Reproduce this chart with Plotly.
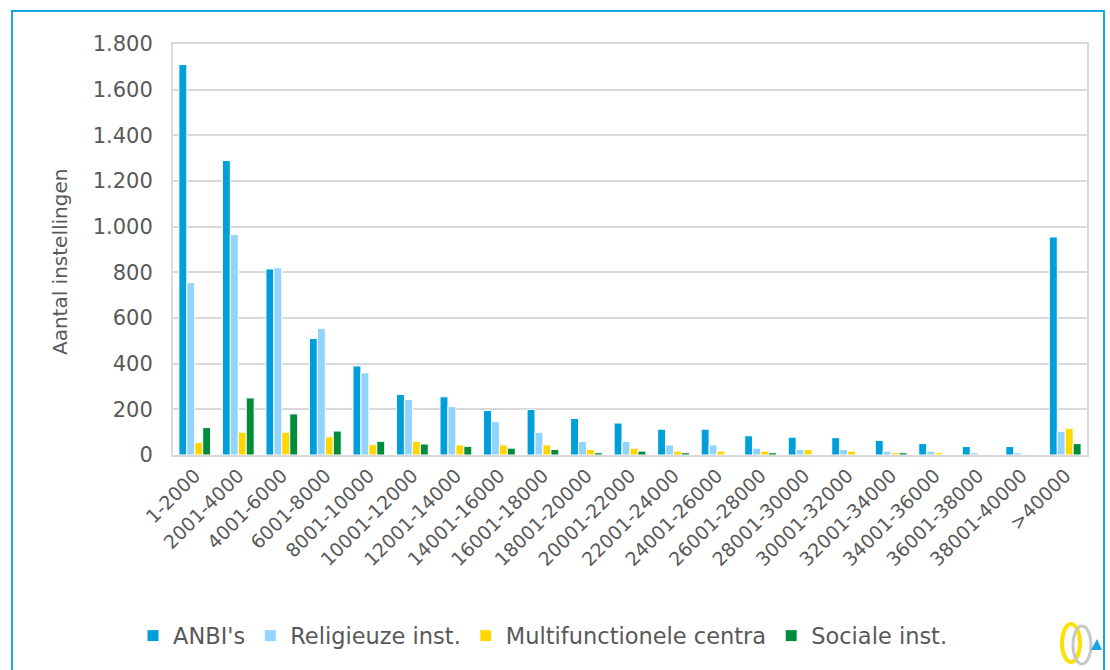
import plotly.graph_objects as go

categories = ["1-2000", "2001-4000", "4001-6000", "6001-8000", "8001-10000",
              "10001-12000", "12001-14000", "14001-16000", "16001-18000",
              "18001-20000", "20001-22000", "22001-24000", "24001-26000",
              "26001-28000", "28001-30000", "30001-32000", "32001-34000",
              "34001-36000", "36001-38000", "38001-40000", ">40000"]

anbi = [1710, 1290, 815, 510, 390, 265, 255, 195, 200, 160, 140, 113, 113, 84, 78, 76, 64, 50, 37, 37, 955]
religieuze = [755, 965, 820, 555, 360, 243, 212, 146, 99, 59, 59, 44, 44, 30, 24, 24, 17, 17, 10, 10, 104]
multifunctioneel = [55, 100, 100, 80, 45, 60, 44, 44, 44, 24, 30, 17, 17, 17, 24, 17, 10, 10, 0, 0, 117]
sociale = [120, 250, 180, 105, 60, 48, 38, 30, 24, 10, 17, 10, 0, 10, 0, 0, 10, 0, 0, 0, 50]

series_names = ["ANBI's", "Religieuze inst.", "Multifunctionele centra", "Sociale inst."]
series_values = [anbi, religieuze, multifunctioneel, sociale]
series_colors = ["#009fda", "#93d4ff", "#ffd700", "#008c3a"]

y_ticks = [0, 200, 400, 600, 800, 1000, 1200, 1400, 1600, 1800]

FONT = "DejaVu Sans"
TXT = "#595959"

L, R, T, B = 173, 1087, 44, 455
PW, PH = R - L, B - T


def px(x):
    return (x - L) / PW


def py(y):
    return (B - y) / PH


fig = go.Figure()
for name, vals, col in zip(series_names, series_values, series_colors):
    fig.add_trace(go.Bar(
        x=categories, y=vals, name=name,
        marker=dict(color=col, line=dict(color="white", width=1)),
    ))

fig.update_layout(
    width=1110, height=670,
    margin=dict(l=L, r=1110 - R, t=T, b=670 - B),
    paper_bgcolor="white", plot_bgcolor="white",
    barmode="group", bargap=0.27, bargroupgap=0.0,
    separators=",.",
    font=dict(family=FONT, color=TXT),
    showlegend=True,
    legend=dict(orientation="h", x=px(133), xanchor="left", y=py(636), yanchor="middle",
                font=dict(size=22.5, color=TXT, family=FONT), itemwidth=30,
                traceorder="normal", bgcolor="rgba(0,0,0,0)"),
    xaxis=dict(
        tickangle=-45, tickfont=dict(size=19, color=TXT, family=FONT),
        showline=True, linecolor="#d9d9d9", linewidth=2, mirror=True,
        showgrid=False, ticks="", automargin=False,
    ),
    yaxis=dict(
        range=[0, 1800], tickvals=y_ticks, tickformat=",d",
        tickfont=dict(size=21, color=TXT, family=FONT),
        showgrid=True, gridcolor="#d9d9d9", gridwidth=2,
        showline=True, linecolor="#d9d9d9", linewidth=2, mirror=True,
        zeroline=False, ticks="", ticklabelstandoff=14, automargin=False,
    ),
)

fig.add_annotation(
    text="Aantal instellingen", xref="paper", yref="paper",
    x=px(60), y=py(262), textangle=-90,
    showarrow=False, xanchor="center", yanchor="middle",
    font=dict(size=20, color=TXT, family=FONT),
)

# outer frame
fig.add_shape(type="rect", xref="paper", yref="paper",
              x0=px(12), x1=px(1104), y0=py(700), y1=py(11),
              line=dict(color="#1aa7e1", width=2), fillcolor="rgba(0,0,0,0)", layer="below")

# small logo bottom right
fig.add_shape(type="circle", xref="paper", yref="paper",
              x0=px(1062), x1=px(1080), y0=py(662), y1=py(624),
              line=dict(color="#ffe000", width=4))
fig.add_shape(type="circle", xref="paper", yref="paper",
              x0=px(1073), x1=px(1091), y0=py(664), y1=py(626),
              line=dict(color="#c8c8c8", width=3))
fig.add_shape(type="path", xref="paper", yref="paper",
              path=f"M {px(1091)} {py(650)} L {px(1102)} {py(650)} L {px(1097)} {py(639)} Z",
              fillcolor="#1aa7e1", line=dict(width=0))

fig.write_html("out.html", post_script="document.body.style.margin='0';",
               config={"displayModeBar": False})
